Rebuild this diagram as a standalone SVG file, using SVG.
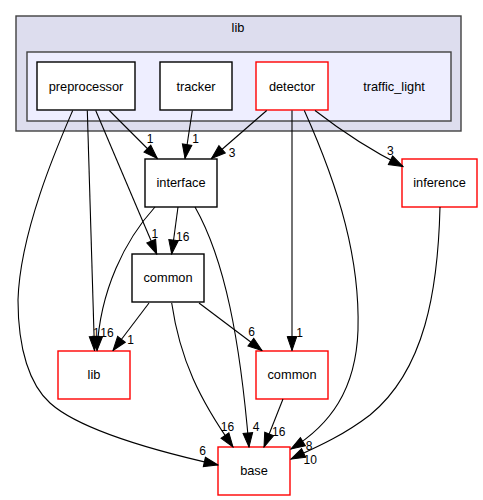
<svg xmlns="http://www.w3.org/2000/svg" width="483" height="500" viewBox="0 0 483 500">
<defs>
<marker id="ah" markerUnits="userSpaceOnUse" viewBox="0 0 16 12" markerWidth="16" markerHeight="12" refX="15" refY="6" orient="auto">
<path d="M1,1.2 L15,6 L1,10.8 z" fill="#000" stroke="#000" stroke-width="1"/>
</marker>
<style>
.c1{fill:#ddddee;stroke:#404040;stroke-width:1.4}
.c2{fill:#eeeeff;stroke:#404040;stroke-width:1.4}
.n{fill:#fff;stroke:#000;stroke-width:1.4}
.r{fill:#fff;stroke:#ff0000;stroke-width:1.4}
.t{font-family:"Liberation Sans",Arial,sans-serif;font-size:12.8px;fill:#000;text-anchor:middle}
.l{font-family:"Liberation Sans",Arial,sans-serif;font-size:12px;fill:#000;text-anchor:middle}
.e{fill:none;stroke:#000;stroke-width:1.1;marker-end:url(#ah)}
</style>
</defs>
<rect x="0" y="0" width="483" height="500" fill="#fff"/>
<g id="cluster_lib">
<rect class="c1" x="16" y="16" width="445" height="115"/>
<text class="t" x="238" y="32">lib</text>
</g>
<g id="cluster_traffic_light">
<rect class="c2" x="27" y="52" width="424" height="69"/>
<text class="t" x="394" y="90.5">traffic_light</text>
</g>
<g id="node_preprocessor">
<rect class="n" x="37" y="62" width="98" height="48"/>
<text class="t" x="86" y="90.5">preprocessor</text>
</g>
<g id="node_tracker">
<rect class="n" x="160" y="62" width="72" height="48"/>
<text class="t" x="196" y="90.5">tracker</text>
</g>
<g id="node_detector">
<rect class="r" x="256" y="62" width="72" height="48"/>
<text class="t" x="292" y="90.5">detector</text>
</g>
<g id="node_interface">
<rect class="n" x="145" y="159" width="72" height="48"/>
<text class="t" x="181" y="187">interface</text>
</g>
<g id="node_inference">
<rect class="r" x="402" y="159" width="75" height="48"/>
<text class="t" x="439.5" y="187">inference</text>
</g>
<g id="node_common_mid">
<rect class="n" x="132" y="254" width="72" height="48"/>
<text class="t" x="168" y="282">common</text>
</g>
<g id="node_lib">
<rect class="r" x="58" y="351" width="72" height="48"/>
<text class="t" x="94" y="379">lib</text>
</g>
<g id="node_common_right">
<rect class="r" x="256" y="351" width="72" height="48"/>
<text class="t" x="292" y="379">common</text>
</g>
<g id="node_base">
<rect class="r" x="218" y="447" width="72" height="48"/>
<text class="t" x="254" y="475">base</text>
</g>
<g id="connectors">
<path class="e" d="M109.3,110.5 L157.3,158.5"/>
<text class="l" x="150" y="143.3">1</text>
<path class="e" d="M192.3,110.5 L185,158.5"/>
<text class="l" x="195.7" y="143.3">1</text>
<path class="e" d="M266.7,110.5 L211.5,158.5"/>
<text class="l" x="232" y="156.7">3</text>
<path class="e" d="M315,110.5 C335,126 370,150 403,166.5"/>
<text class="l" x="390.3" y="155">3</text>
<path class="e" d="M292,110.5 L292,350.5"/>
<text class="l" x="299.7" y="336.5">1</text>
<path class="e" d="M304.3,110.5 C340,190 360,260 358,330 C356,390 330,425 291,449"/>
<text class="l" x="309" y="450">8</text>
<path class="e" d="M440,207 C438,290 425,370 370,415 C340,438 310,450 291,459"/>
<text class="l" x="310.3" y="464.3">10</text>
<path class="e" d="M72.7,110.5 C60,140 20,230 18,300 C18,350 30,385 50,403 C80,430 160,452 218,465"/>
<text class="l" x="202.7" y="455">6</text>
<path class="e" d="M87.3,110.5 L94.5,350.5"/>
<text class="l" x="96.3" y="337.3">1</text>
<path class="e" d="M95.7,110.5 L156.7,254"/>
<text class="l" x="154.8" y="238">1</text>
<path class="e" d="M178,207 L171.7,254"/>
<text class="l" x="182.7" y="240.7">16</text>
<path class="e" d="M195,207 C225,260 240,340 249,447"/>
<text class="l" x="256" y="431">4</text>
<path class="e" d="M155,207 C125,240 100,290 97,350.5"/>
<text class="l" x="107" y="337.3">16</text>
<path class="e" d="M149,303 L113,350.5"/>
<text class="l" x="130.5" y="344">1</text>
<path class="e" d="M171.7,303 C180,360 200,400 233,447"/>
<text class="l" x="227.5" y="430.7">16</text>
<path class="e" d="M199,303 L262,350.5"/>
<text class="l" x="251.7" y="335.7">6</text>
<path class="e" d="M283,399 L264,447"/>
<text class="l" x="278.7" y="436">16</text>
</g>
</svg>
